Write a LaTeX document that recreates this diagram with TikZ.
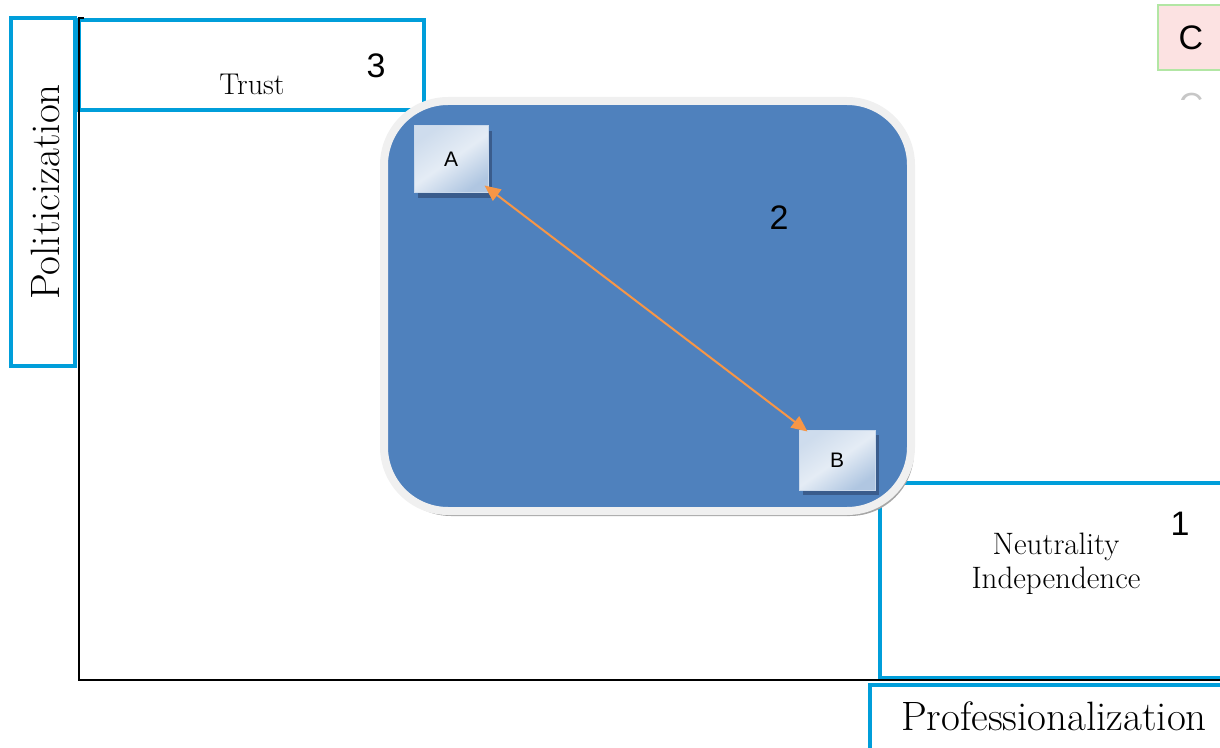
\documentclass[tikz,border=0pt]{standalone}
\usepackage{fontspec}
\newfontfamily\arialf{Liberation Sans}
\usetikzlibrary{shadows,arrows.meta}
\definecolor{axblue}{RGB}{0,158,218}
\definecolor{bigblue}{RGB}{79,129,189}
\definecolor{arrorange}{RGB}{247,150,70}
\definecolor{cfill}{RGB}{252,226,226}
\definecolor{cedge}{RGB}{178,230,164}
\definecolor{boxshadow}{RGB}{58,92,140}
\tikzset{
  bluebox/.style={draw=axblue, line width=2pt, fill=white, inner sep=0pt},
  smallbox/.style={draw=white!70!bigblue, line width=0.5pt, inner sep=0pt,
    top color=white!72!bigblue, bottom color=white!55!bigblue, middle color=white!85!bigblue, shading angle=35,
    drop shadow={shadow xshift=2pt, shadow yshift=-2.5pt, fill=boxshadow, opacity=1},
    font=\arialf\fontsize{10.5}{12}\selectfont},
  numlabel/.style={font=\arialf\fontsize{17}{19}\selectfont, inner sep=0pt},
  serifl/.style={inner sep=0pt, align=center},
  axisline/.style={draw=black, line width=0.8pt}
}
\begin{document}
\begin{tikzpicture}[x=0.5pt,y=-0.5pt]
\useasboundingbox (0,0) rectangle (1220,748);
\clip (0,0) rectangle (1220,748);
% boxes
\node[bluebox, minimum width=32pt, minimum height=174pt] (pol) at (43,192) {};
\node[serifl, rotate=90, font=\fontsize{20.5}{24}\selectfont] (poltext) at (45,192) {Politicization};
\node[bluebox, minimum width=172.5pt, minimum height=45pt] (trustbox) at (251.5,65) {};
\node[serifl, font=\fontsize{15}{18}\selectfont] (trust) at (252,84) {Trust};
\node[numlabel] (n3) at (376,66) {3};
\node[bluebox, minimum width=172pt, minimum height=97.5pt] (box1) at (1052,580.5) {};
\node[serifl, font=\fontsize{15.5}{17}\selectfont] (neut) at (1056,564) {Neutrality\\Independence};
\node[numlabel] (n1) at (1180,524) {1};
\node[bluebox, minimum width=177pt, minimum height=33.5pt] (profbox) at (1047,718.5) {};
\node[serifl, font=\fontsize{20.5}{24}\selectfont] (prof) at (1054,716) {Professionalization};
% C box
\node[draw=cedge, line width=1pt, fill=cfill, minimum width=33pt, minimum height=32.5pt, inner sep=0pt,
  font=\arialf\fontsize{17}{19}\selectfont] (cbox) at (1191,37.5) {C};
\begin{scope}
  \clip (1150,74) rectangle (1224,100);
  \node[transform shape, yscale=-1, text=black!22, font=\arialf\fontsize{17}{19}\selectfont, inner sep=0pt] (crefl) at (1191,105) {C};
\end{scope}
% big rounded rect
\node[draw=black!6, line width=4pt, fill=bigblue, rounded corners=32pt,
  minimum width=263.5pt, minimum height=205pt,
  drop shadow={shadow xshift=1.5pt, shadow yshift=-2.5pt, fill=black!35, opacity=1}] (big) at (647.5,306) {};
\node[numlabel] (n2) at (779,218) {2};
% small boxes
\node[smallbox, minimum width=37pt, minimum height=33.5pt] (A) at (451,159.5) {A};
\node[smallbox, minimum width=38pt, minimum height=30pt] (B) at (837,460) {B};
\draw[arrorange, line width=1pt, {Triangle[length=8pt,width=7pt]}-{Triangle[length=8pt,width=7pt]}]
  ([shift={(-2pt,4pt)}]A.south east) -- ([shift={(4.5pt,-1pt)}]B.north west);
% axes
\coordinate (top) at (79,18);
\coordinate (orig) at (79,680);
\coordinate (right) at (1220,680);
\coordinate (tick) at (84,18);
\draw[axisline] (tick) -- (top) -- (orig) -- (right);
\end{tikzpicture}
\end{document}
